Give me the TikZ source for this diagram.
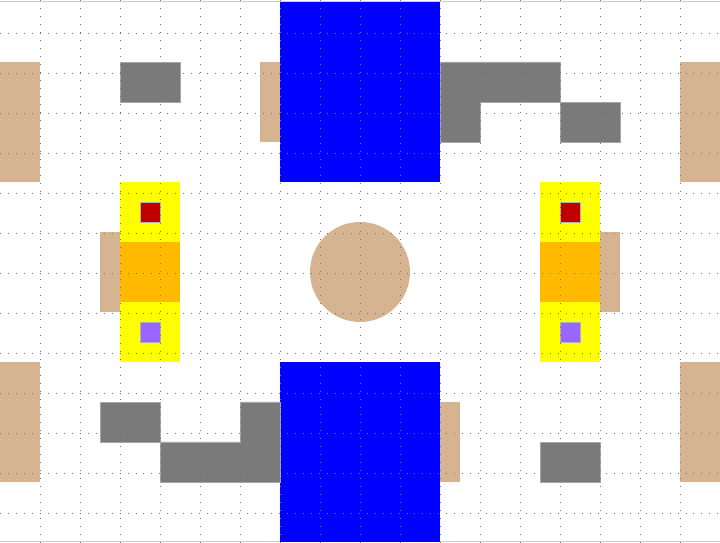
\documentclass[tikz,border=0pt]{standalone}
\usepackage{tikz}

\definecolor{wood}{RGB}{215,180,145}
\definecolor{wall}{RGB}{122,122,122}
\definecolor{zone}{RGB}{255,255,0}
\definecolor{pad}{RGB}{255,186,0}
\definecolor{hot}{RGB}{192,0,0}
\definecolor{cold}{RGB}{153,102,255}
\definecolor{water}{RGB}{0,0,255}

\begin{document}
\begin{tikzpicture}[x=0.5cm, y=-0.5cm]
    \useasboundingbox (0,-0.1) rectangle (36,27.05);
    \fill[white] (0,-0.1) rectangle (36,27.05);

    % Frame lines (top and bottom)
    \draw[black!20, line width=0.6pt] (0,-0.05) -- (36,-0.05);
    \draw[black!20, line width=0.6pt] (0,26.98) -- (36,26.98);

    % Water blocks (blue)
    \fill[water] (14,0) rectangle (22,9);
    \fill[water] (14,18) rectangle (22,27);

    % Wooden pieces (tan)
    \foreach \x/\y/\w/\h in {0/3/2/6, 34/3/2/6, 0/18/2/6, 34/18/2/6,
                             13/3/1/4, 22/20/1/4, 5/11.5/1/4, 30/11.5/1/4} {
        \fill[wood] (\x,\y) rectangle (\x+\w, \y+\h);
    }
    \fill[wood] (18,13.5) circle (2.5);

    % Walls (gray)
    \filldraw[wall, draw=black!35, thin] (6,3) rectangle (9,5);
    \filldraw[wall, draw=black!35, thin] (22,3) -- (28,3) -- (28,5) -- (24,5) -- (24,7) -- (22,7) -- cycle;
    \filldraw[wall, draw=black!35, thin] (28,5) rectangle (31,7);
    \filldraw[wall, draw=black!35, thin] (5,20) rectangle (8,22);
    \filldraw[wall, draw=black!35, thin] (8,22) -- (12,22) -- (12,20) -- (14,20) -- (14,24) -- (8,24) -- cycle;
    \filldraw[wall, draw=black!35, thin] (27,22) rectangle (30,24);

    % Stations (yellow with orange pad, red and purple marks)
    \foreach \x in {6, 27} {
        \fill[zone] (\x,9) rectangle (\x+3,18);
        \fill[pad] (\x,12) rectangle (\x+3,15);
        \filldraw[hot, draw=black!30, thin] (\x+1,10) rectangle (\x+2,11);
        \filldraw[cold, draw=black!30, thin] (\x+1,16) rectangle (\x+2,17);
    }

    % Dotted grid on top
    \foreach \x in {2,4,...,34} {
        \draw[black!55, line width=0.7pt, dash pattern=on 0.7pt off 4.97pt] (\x,-0.1) -- (\x,27.05);
    }
    \foreach \y in {1.55,3.55,...,25.55} {
        \draw[black!55, line width=0.7pt, dash pattern=on 0.7pt off 4.97pt] (0,\y) -- (36,\y);
    }

\end{tikzpicture}
\end{document}
